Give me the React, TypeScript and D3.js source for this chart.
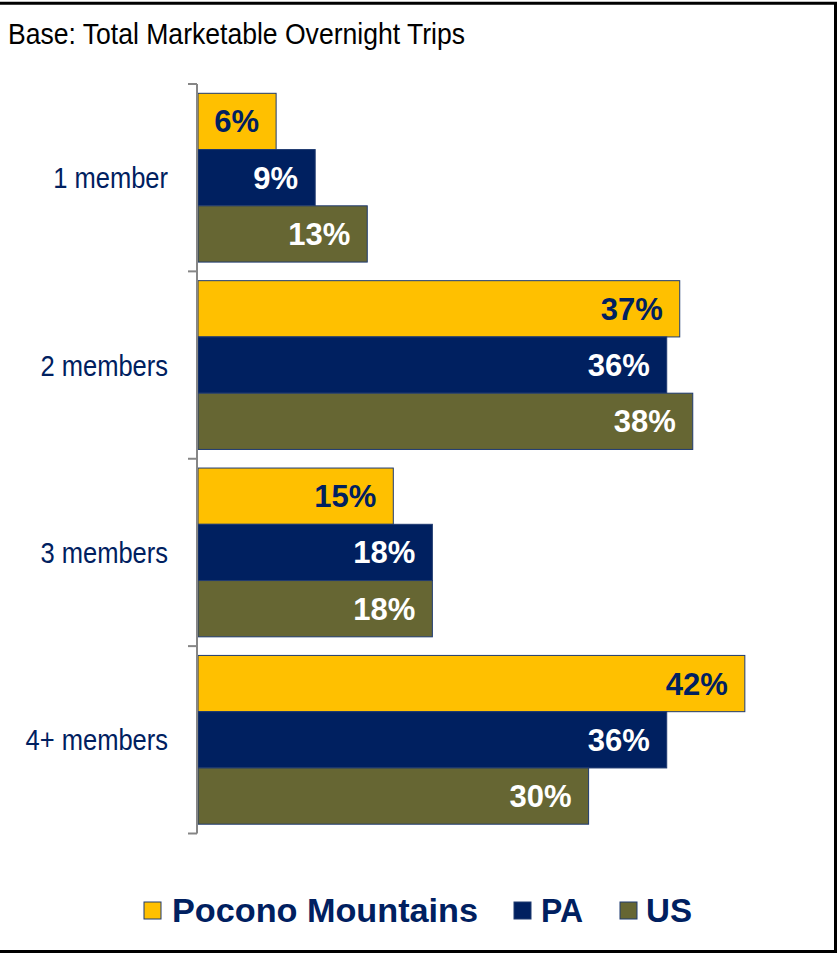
import React from "react";
import * as d3 from "d3";

const categories = ["1 member", "2 members", "3 members", "4+ members"];
const seriesNames = ["Pocono Mountains", "PA", "US"];
const pocono = [6, 37, 15, 42];
const pa = [9, 36, 18, 36];
const us = [13, 38, 18, 30];
const seriesColors = ["#FFC000", "#002060", "#666633"];
const labelColors = ["#002060", "#FFFFFF", "#FFFFFF"];
const title = "Base: Total Marketable Overnight Trips";

const W = 837;
const H = 954;
const NAVY = "#002060";

export default function App() {
  const seriesValues = [pocono, pa, us];
  const x = d3.scaleLinear().domain([0, 50]).range([198, 198 + 651]);
  const y = d3.scaleBand<string>().domain(categories).range([84, 833.5]).paddingInner(0).paddingOuter(0);
  const bw = y.bandwidth();
  const inner = d3.scaleBand<string>().domain(seriesNames).range([9.3, bw - 9.3]).padding(0);
  const ticks = [...categories.map((c) => y(c) as number), 833.5];

  const legendX = [144, 514, 620];
  const legendTextX = [172, 541, 646];
  const legendTextLen = [306, 42, 46];

  return (
    <svg
      width={W}
      height={H}
      style={{ position: "absolute", left: 0, top: 0, display: "block", background: "#fff" }}
      fontFamily="'Liberation Sans', Arial, sans-serif"
    >
      <rect x={0} y={0} width={W} height={H} fill="#fff" />
      {/* border */}
      <path d="M0,3.3 H835.5 V951.5 H0" fill="none" stroke="#000" strokeWidth={3} />
      <text x={8} y={44} fontSize={29} fill="#000" textLength={457} lengthAdjust="spacingAndGlyphs">
        {title}
      </text>

      {/* bars */}
      {categories.map((c, ci) => (
        <g key={c} transform={`translate(0,${y(c)})`}>
          {seriesNames.map((s, si) => {
            const v = seriesValues[si][ci];
            const by = inner(s) as number;
            const bh = inner.bandwidth();
            return (
              <g key={s}>
                <rect
                  x={x(0)}
                  y={by}
                  width={x(v) - x(0)}
                  height={bh}
                  fill={seriesColors[si]}
                  stroke="#1F3A70"
                  strokeWidth={1}
                />
                <text
                  x={x(v) - 17}
                  y={by + bh / 2 + 11}
                  textAnchor="end"
                  fontSize={31}
                  fontWeight="bold"
                  fill={labelColors[si]}
                >
                  {v}%
                </text>
              </g>
            );
          })}
        </g>
      ))}

      {/* axis */}
      <line x1={197} x2={197} y1={84} y2={833.5} stroke="#868686" strokeWidth={2} />
      {ticks.map((t, i) => (
        <line key={i} x1={188} x2={197} y1={t} y2={t} stroke="#868686" strokeWidth={2} />
      ))}
      {categories.map((c) => (
        <text
          key={c}
          transform={`translate(168,${(y(c) as number) + bw / 2 + 10.5}) scale(0.88,1)`}
          textAnchor="end"
          fontSize={29}
          fill={NAVY}
        >
          {c}
        </text>
      ))}

      {/* legend */}
      {seriesNames.map((s, si) => (
        <g key={s}>
          <rect
            x={legendX[si]}
            y={902}
            width={17}
            height={17}
            fill={seriesColors[si]}
            stroke="#1F3A70"
            strokeWidth={1}
          />
          <text
            x={legendTextX[si]}
            y={922}
            fontSize={33}
            fontWeight="bold"
            fill={NAVY}
            textLength={legendTextLen[si]}
            lengthAdjust="spacingAndGlyphs"
          >
            {s}
          </text>
        </g>
      ))}
    </svg>
  );
}
